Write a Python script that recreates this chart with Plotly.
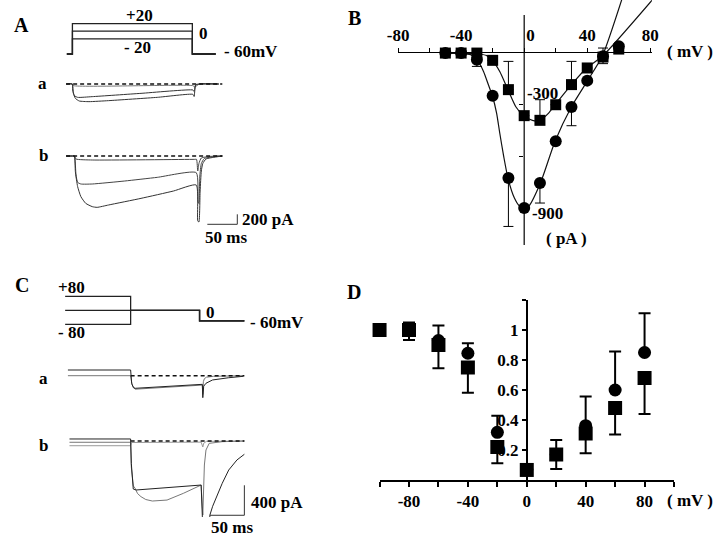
import plotly.graph_objects as go

W, H = 720, 538
def px(x): return x / W
def py(y): return 1 - y / H

FONT = 'Liberation Serif'
BLACK = '#111111'
GRAY = '#777777'

# ---------------- Panel B: I-V relation ----------------
B_V = [-50, -40, -30, -20, -10, 0, 10, 20, 30, 40, 50, 60]
B_SQ = [-6, -6, -6, -48, -217, -367, -394, -304, -188, -92, -29, 17]
B_SQ_ERR_UP = [0, 0, 23, 0, 163, 0, 119, 0, 134, 0, 52, 0]
B_CI = [-6, -6, -44, -252, -727, -900, -756, -515, -317, -165, -25, 33]
B_CI_ERR_DN = [0, 0, 39, 0, 279, 0, 115, 0, 108, 0, 42, 0]
B_FIT_CI_V = [-50.5, -34, -29.9, -25.8, -22.7, -20.2, -17.5, -15.5, -13, -10.3, -6.2, -3.1, 0, 3.1, 10.3, 19.6, 29.9, 40.2, 49.5, 61.9]
B_FIT_CI_I = [-6, -15, -44, -112, -189, -252, -352, -467, -602, -727, -842, -887, -900, -887, -756, -515, -317, -165, -25, 302]
B_FIT_SQ_V = [-50.5, -29.9, -23.7, -20.2, -15.5, -10.3, -5.2, -0.4, 5.2, 9.9, 15.5, 19.6, 29.9, 39.6, 49.5, 81.4]
B_FIT_SQ_I = [-6, -10, -21, -48, -112, -217, -317, -367, -394, -394, -352, -304, -189, -92, -25, 302]
B_XTICKS = [-80, -60, -40, -20, 0, 20, 40, 60, 80]
B_XTEXT = ['-80', '', '-40', '', '\u00a0\u00a0\u00a00', '', '40', '', '80']
B_YTICKS = [-300, -600, -900]

# ---------------- Panel D: relative current ----------------
D_V = [-100, -80, -60, -40, -20, 0, 20, 40, 60, 80]
D_SQ = [1.0, 1.0, 0.9, 0.75, 0.22, 0.067, 0.17, 0.31, 0.48, 0.68]
D_SQ_ERR_DN = [0, 0.067, 0.155, 0.168, 0.109, 0, 0.097, 0.132, 0.176, 0.24]
D_SQ_ERR_UP = [0, 0, 0, 0, 0, 0, 0.097, 0, 0, 0]
D_CI = [1.0, 1.01, 0.93, 0.845, 0.318, 0.07, 0.17, 0.362, 0.60, 0.85]
D_CI_ERR_UP = [0, 0.04, 0.10, 0.066, 0.11, 0, 0, 0.194, 0.256, 0.261]
D_XTICKS = [-100, -80, -60, -40, -20, 0, 20, 40, 60, 80, 100]
D_XTEXT = ['', '-80', '', '-40', '', '0', '', '40', '', '80', '']
D_YTICKS = [0.2, 0.4, 0.6, 0.8, 1.0, 1.2]
D_YTEXT = ['0.2', '0.4', '0.6', '0.8', '1', '']

# ---------------- Panel A: protocol and current traces (ms, mV / pA) ----------------
A_PROT_T = [-9.3, 0, 200, 239]
A_LEVELS = [20, 0, -20]
A_HOLD = -60
A_BASE_T = [-10.5, 250]
Aa_T1 = [-10.5, -0.5, 1.6, 4.9, 11.4, 27.6, 60.2, 141.5, 201, 203, 205.5, 212, 244]
Aa_I1 = [0, 0, -187, -287, -340, -353, -333, -267, -207, -250, -25, 0, 0]
Aa_T2 = [-10.5, 0, 0.5, 3.3, 8.7, 33, 114.4, 201, 203, 205.5, 212, 244]
Aa_I2 = [0, 0, -120, -233, -267, -253, -187, -120, -150, -15, 0, 0]
Aa_T3 = [-10.5, 0, 2, 201, 204, 212, 244]
Aa_I3 = [0, 0, -33, -33, -60, 0, 0]
Ab_T1 = [-10.5, 0, 3.3, 4.9, 8.7, 14.1, 22.2, 33.1, 41.2, 60.2, 114.4, 168.6, 206.5, 209, 211, 213, 215, 217.4, 222.8, 239, 250]
Ab_I1 = [0, 0, 0, -313, -613, -813, -947, -1013, -1027, -980, -847, -700, -580, -1300, -1320, -700, -300, -150, -60, -20, 0]
Ab_T2 = [-10.5, 0, 3.3, 6, 8.7, 14.1, 33, 87.3, 141.5, 206.5, 209.5, 211, 212.5, 215, 220, 239, 250]
Ab_I2 = [0, 0, 0, -380, -527, -560, -560, -500, -427, -333, -900, -950, -400, -150, -50, -10, 0]
Ab_T3 = [-10.5, 0, 3.3, 6, 33, 204, 207, 209, 211, 215, 239, 250]
Ab_I3 = [0, 0, 0, -60, -80, -67, -67, -300, -150, -40, 0, 0]
A_SCALE_MS, A_SCALE_PA = 50, 200

# ---------------- Panel C ----------------
C_PROT_T = [-95, 0, 100, 165]
C_PRE = [80, 0, -80]
C_TEST = 0
C_HOLD = -60
C_BASE_T = [0, 165]
Ca_T1 = [-91, 0, 1.5, 4, 6.5, 104, 104.7, 105.2, 106, 109.3, 118.8, 142.3, 163.5]
Ca_I1 = [76, 76, -100, -160, -168, -115, -293, -200, -140, -101, -57, -27, -8]
Ca_T2 = [-91, 0, 2, 6.5, 104, 104.7, 105.5, 107, 110, 120, 163.5]
Ca_I2 = [0, 0, -120, -180, -125, -250, -80, -40, -20, -8, 0]
Cb_T1 = [-88.7, 0, 1, 3.8, 8, 102.3, 104, 104.7, 114, 115, 119, 123.5, 128, 132.9, 142.3, 154.2, 165]
Cb_I1 = [27, 27, -300, -640, -653, -587, -1000, -1200, -1200, -987, -870, -764, -660, -564, -387, -253, -177]
Cb_T2 = [-88.7, 0, 1, 4, 6.6, 10, 15, 22, 31.5, 52.8, 76.4, 102.3, 104.7, 106, 107, 109.3, 114, 133, 165]
Cb_I2 = [-17, -17, -350, -600, -631, -700, -742, -780, -800, -787, -698, -587, -987, -600, -320, -120, -31, -9, 0]
Cb_T3 = [-88.7, 0, 1, 102.3, 104.7, 106, 110, 165]
Cb_I3 = [-63, -63, -20, -15, -80, -30, -5, 0]
C_SCALE_MS, C_SCALE_PA = 50, 400

fig = go.Figure()

def line(x, y, xa, ya, color=BLACK, width=1, dash='solid', shape='linear', smoothing=0.5):
    ln = dict(color=color, width=width, dash=dash, shape=shape)
    if shape == 'spline':
        ln['smoothing'] = smoothing
    fig.add_trace(go.Scatter(x=x, y=y, xaxis=xa, yaxis=ya, mode='lines', line=ln,
                             showlegend=False, hoverinfo='skip'))

# --- Panel B traces ---
line(B_FIT_CI_V, B_FIT_CI_I, 'x', 'y', width=1.2, shape='spline', smoothing=0.6)
line(B_FIT_SQ_V, B_FIT_SQ_I, 'x', 'y', width=1.2, shape='spline', smoothing=0.6)
fig.add_trace(go.Scatter(x=B_V, y=B_CI, xaxis='x', yaxis='y', mode='markers',
                         marker=dict(symbol='circle', size=12, color='black'),
                         error_y=dict(type='data', symmetric=False, array=[0]*len(B_V), arrayminus=B_CI_ERR_DN,
                                      thickness=1, width=5, color='black'),
                         cliponaxis=False, showlegend=False, hoverinfo='skip'))
fig.add_trace(go.Scatter(x=B_V, y=B_SQ, xaxis='x', yaxis='y', mode='markers',
                         marker=dict(symbol='square', size=11, color='black'),
                         error_y=dict(type='data', symmetric=False, array=B_SQ_ERR_UP, arrayminus=[0]*len(B_V),
                                      thickness=1, width=5, color='black'),
                         cliponaxis=False, showlegend=False, hoverinfo='skip'))

# --- Panel D traces ---
fig.add_trace(go.Scatter(x=D_V, y=D_CI, xaxis='x2', yaxis='y2', mode='markers',
                         marker=dict(symbol='circle', size=13, color='black'),
                         error_y=dict(type='data', symmetric=False, array=D_CI_ERR_UP, arrayminus=[0]*len(D_V),
                                      thickness=2, width=6, color='black'),
                         cliponaxis=False, showlegend=False, hoverinfo='skip'))
fig.add_trace(go.Scatter(x=D_V, y=D_SQ, xaxis='x2', yaxis='y2', mode='markers',
                         marker=dict(symbol='square', size=14, color='black'),
                         error_y=dict(type='data', symmetric=False, array=D_SQ_ERR_UP, arrayminus=D_SQ_ERR_DN,
                                      thickness=2, width=6, color='black'),
                         cliponaxis=False, showlegend=False, hoverinfo='skip'))

# --- Panel A ---
for lv in A_LEVELS:
    line(A_PROT_T, [A_HOLD, lv, A_HOLD, A_HOLD], 'x3', 'y3', color='#222', width=1.3, shape='hv')
line(Aa_T3, Aa_I3, 'x3', 'y4', color=GRAY, shape='spline')
line(Aa_T2, Aa_I2, 'x3', 'y4', color='#333', shape='spline')
line(Aa_T1, Aa_I1, 'x3', 'y4', color='#333', shape='spline')
line(A_BASE_T, [0, 0], 'x3', 'y4', width=1.5, dash='4px,3px')
line(Ab_T3, Ab_I3, 'x3', 'y5', color='#444', shape='spline')
line(Ab_T2, Ab_I2, 'x3', 'y5', color='#444', shape='spline')
line(Ab_T1, Ab_I1, 'x3', 'y5', color='#333', shape='spline')
line(A_BASE_T, [0, 0], 'x3', 'y5', width=1.5, dash='4px,3px')
a_sb_t0 = 225
a_sb_y0 = -1366
line([a_sb_t0, a_sb_t0 + A_SCALE_MS, a_sb_t0 + A_SCALE_MS], [a_sb_y0, a_sb_y0, a_sb_y0 + A_SCALE_PA], 'x3', 'y5',
     color='#333', width=1)

# --- Panel C ---
for pre in C_PRE:
    line(C_PROT_T, [pre, C_TEST, C_HOLD, C_HOLD], 'x4', 'y6', color='#222', width=1.3, shape='hv')
line(Ca_T2, Ca_I2, 'x4', 'y7', color=GRAY)
line(Ca_T1, Ca_I1, 'x4', 'y7', color='#222')
line(C_BASE_T, [0, 0], 'x4', 'y7', width=1.5, dash='4px,3px')
line(Cb_T3, Cb_I3, 'x4', 'y8', color='#999')
line(Cb_T2, Cb_I2, 'x4', 'y8', color=GRAY)
line(Cb_T1, Cb_I1, 'x4', 'y8', color='#222')
line(C_BASE_T, [0, 0], 'x4', 'y8', width=1.5, dash='4px,3px')
c_sb_t0 = 115
c_sb_y0 = -990
line([c_sb_t0, c_sb_t0 + C_SCALE_MS, c_sb_t0 + C_SCALE_MS], [c_sb_y0, c_sb_y0, c_sb_y0 + C_SCALE_PA], 'x4', 'y8',
     color='#333', width=1)

tickfont = dict(family=FONT, size=17, color='black', weight='bold')
hidden = dict(visible=False, showgrid=False, zeroline=False)

fig.update_layout(
    width=W, height=H, margin=dict(l=0, r=0, t=0, b=0),
    paper_bgcolor='white', plot_bgcolor='rgba(0,0,0,0)',
    showlegend=False, hovermode=False, dragmode=False,
    # Panel B
    xaxis=dict(domain=[px(397), px(657.3)], range=[-80, 81], anchor='free', position=py(52), side='top',
               showline=True, linecolor='black', linewidth=1.2, ticks='outside', ticklen=4, tickwidth=1,
               tickcolor='black', tickvals=B_XTICKS, ticktext=B_XTEXT, tickfont=tickfont,
               showgrid=False, zeroline=False),
    yaxis=dict(domain=[py(245), py(0)], range=[-1113, 300], anchor='free', position=px(525),
               showline=False, ticks='outside', ticklen=4, tickwidth=1, tickcolor='black',
               tickvals=B_YTICKS, ticktext=['', '', ''], showgrid=False, zeroline=False),
    # Panel D
    xaxis2=dict(domain=[px(378), px(680)], range=[-100, 100], anchor='y2',
                showline=True, linecolor='black', linewidth=2, ticks='outside', ticklen=5, tickwidth=2,
                tickcolor='black', tickvals=D_XTICKS, ticktext=D_XTEXT, tickfont=tickfont,
                showgrid=False, zeroline=False),
    yaxis2=dict(domain=[py(480), py(300)], range=[0, 1.2], anchor='free', position=px(529),
                showline=True, linecolor='black', linewidth=2, ticks='outside', ticklen=4, tickwidth=2,
                tickcolor='black', tickvals=D_YTICKS, ticktext=D_YTEXT, tickfont=tickfont,
                showgrid=False, zeroline=False),
    # Panel A
    xaxis3=dict(domain=[px(40), px(300)], range=[-37.4, 385.4], anchor='y3', **hidden),
    yaxis3=dict(domain=[py(62), py(8)], range=[-81.05, 61.05], anchor='x3', **hidden),
    yaxis4=dict(domain=[py(120), py(70)], range=[-720, 280], anchor='x3', **hidden),
    yaxis5=dict(domain=[py(235), py(140)], range=[-1580, 320], anchor='x3', **hidden),
    # Panel C
    xaxis4=dict(domain=[px(40), px(300)], range=[-116.98, 250.8], anchor='y6', **hidden),
    yaxis6=dict(domain=[py(335), py(282)], range=[-141.1, 161.7], anchor='x4', **hidden),
    yaxis7=dict(domain=[py(405), py(360)], range=[-390.6, 209.3], anchor='x4', **hidden),
    yaxis8=dict(domain=[py(517), py(430)], range=[-1013, 146.7], anchor='x4', **hidden),
)

# vertical axis line of panel B
fig.add_shape(type='line', xref='x', yref='y', x0=0, x1=0, y0=-1113, y1=213,
              line=dict(color='black', width=1.2))

def txt(x, y, s, size=17, xanchor='center'):
    fig.add_annotation(x=px(x), y=py(y), xref='paper', yref='paper', text=s, showarrow=False,
                       xanchor=xanchor, yanchor='middle', borderpad=0,
                       font=dict(family=FONT, size=size, color='black', weight='bold'))

# panel letters
txt(11, 25, 'A', 20); txt(352, 18, 'B', 20); txt(11, 285, 'C', 20); txt(352, 292, 'D', 20)
# panel A labels
txt(132, 15, '+20'); txt(197, 33, '0'); txt(130, 48, '- 20'); txt(217, 52, '- 60mV', xanchor='left')
txt(32, 83, 'a'); txt(33, 155, 'b')
txt(236, 219, '200 pA', xanchor='left'); txt(221, 237, '50 ms')
# panel C labels
txt(62, 287, '+80'); txt(62, 332, '- 80'); txt(205, 312, '0'); txt(244, 322, '- 60mV', xanchor='left')
txt(33, 378, 'a'); txt(33, 445, 'b')
txt(245, 502, '400 pA', xanchor='left'); txt(227, 527, '50 ms')
# panel B labels
txt(528, 93, '-300', xanchor='left'); txt(533, 213, '-900', xanchor='left')
txt(672, 52, '( mV )', xanchor='left'); txt(570, 238, '( pA )')
# panel D label
txt(672, 500, '( mV )', xanchor='left')

fig.write_html('out.html', config={'displayModeBar': False, 'staticPlot': True},
               post_script="document.body.style.margin='0px';")
